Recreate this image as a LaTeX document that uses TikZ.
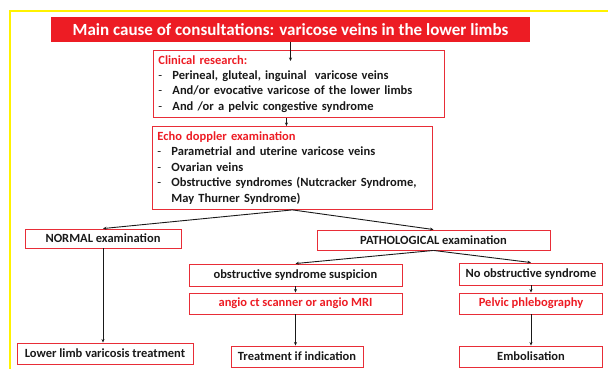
\documentclass[tikz,border=0pt]{standalone}
\usepackage{fontspec}
\setmainfont{Carlito}
\usetikzlibrary{arrows.meta,calc}
\definecolor{titlered}{RGB}{237,28,36}
\definecolor{boxred}{RGB}{232,45,55}
\definecolor{txtgray}{RGB}{25,25,25}
\definecolor{frameyellow}{RGB}{255,242,0}
\newcommand{\itemdash}{\makebox[14pt][l]{\mdseries-}}
\begin{document}
\begin{tikzpicture}[x=1pt,y=-1pt,
  box/.style={draw=boxred,line width=0.9pt,inner sep=0pt,text=txtgray,
    font=\bfseries\fontsize{12.5}{14}\selectfont},
  listbox/.style={box,anchor=north west,align=left,inner xsep=5pt,
    font=\bfseries\fontsize{12.5}{15.4}\selectfont},
  arr/.style={-{Stealth[length=3.5pt,width=3pt]},line width=0.9pt,draw=txtgray}]
  \useasboundingbox (0,0) rectangle (608,369);
  \draw[frameyellow,line width=1.2pt] (10,369) -- (10,11) -- (608,11);

  \node[fill=titlered,text=white,inner sep=0pt,minimum width=479pt,minimum height=25pt,
    font=\bfseries\fontsize{17}{18}\selectfont] (title) at (290.5,29.5)
    {Main cause of consultations: varicose veins in the lower limbs};

  \node[listbox,minimum width=291pt,minimum height=67pt,text width=281pt] (clinic) at (153,50)
    {\textcolor{titlered}{Clinical research:}\\
     \itemdash Perineal, gluteal, inguinal\ \ varicose veins\\
     \itemdash And/or evocative varicose of the lower limbs\\
     \itemdash And /or a pelvic congestive syndrome};
  \node[listbox,minimum width=280pt,minimum height=83pt,text width=270pt] (echo) at (152,126)
    {\textcolor{titlered}{Echo doppler examination}\\
     \itemdash Parametrial and uterine varicose veins\\
     \itemdash Ovarian veins\\
     \itemdash Obstructive syndromes (Nutcracker Syndrome,\\
     \hspace*{14pt}May Thurner Syndrome)};

  \node[box,minimum width=156pt,minimum height=19pt] (normal) at (103,238.5) {NORMAL examination};
  \node[box,minimum width=233pt,minimum height=20pt] (patho) at (433.5,240) {PATHOLOGICAL examination};
  \node[box,minimum width=213pt,minimum height=22pt] (obstr) at (295.5,275) {obstructive syndrome suspicion};
  \node[box,minimum width=143pt,minimum height=22pt] (noobstr) at (531,274) {No obstructive syndrome};
  \node[box,minimum width=213pt,minimum height=21pt,text=titlered] (angio) at (295.5,303.5) {angio ct scanner or angio MRI};
  \node[box,minimum width=143pt,minimum height=21pt,text=titlered] (pelvic) at (531,303.5) {Pelvic phlebography};
  \node[box,minimum width=176pt,minimum height=21pt] (lowlimb) at (105,353.5) {Lower limb varicosis treatment};
  \node[box,minimum width=132pt,minimum height=21pt] (treat) at (297,356.5) {Treatment if indication};
  \node[box,minimum width=143pt,minimum height=21pt] (embol) at (531,356.5) {Embolisation};

  \draw[arr] (title.south) -- ($(title.south |- clinic.north)+(0,11)$);
  \draw[arr] ([xshift=-12.5pt]clinic.south) -- ([xshift=-12.5pt]clinic.south |- echo.north);
  \draw[arr] (echo.south) -- (normal.north);
  \draw[arr] (echo.south) -- (patho.north);
  \draw[arr] (normal.south) -- (normal.south |- lowlimb.north);
  \draw[arr] (patho.south) -- (obstr.north);
  \draw[arr] (patho.south) -- (noobstr.north);
  \draw[arr] (obstr.south) -- (angio.north);
  \draw[arr] (angio.south) -- (angio.south |- treat.north);
  \draw[arr] (noobstr.south) -- (pelvic.north);
  \draw[arr] (pelvic.south) -- (embol.north);
\end{tikzpicture}
\end{document}
